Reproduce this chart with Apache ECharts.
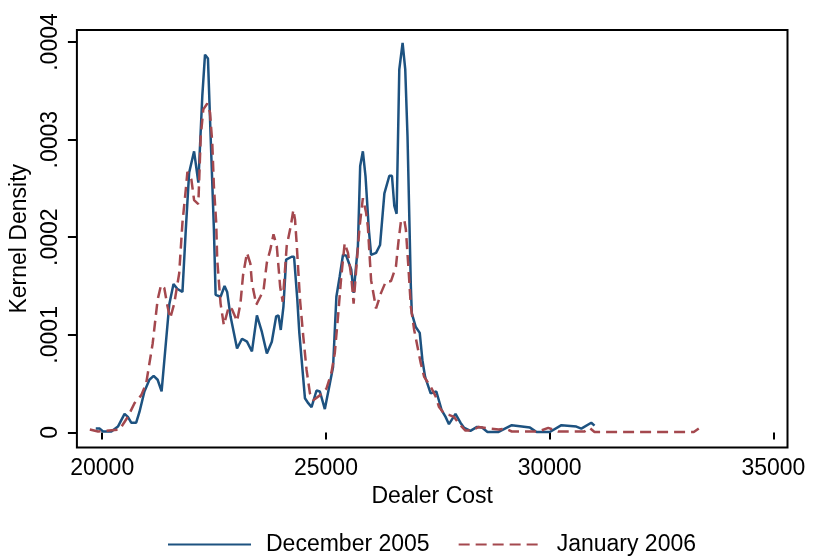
<!DOCTYPE html>
<html>
<head>
<meta charset="utf-8">
<script src="https://cdn.jsdelivr.net/npm/echarts@6/dist/echarts.min.js"></script>
<style>html,body{margin:0;padding:0;background:#fff;}#c{width:817px;height:556px;}</style>
</head>
<body>
<div id="c"></div>
<script>
const seriesNames = ['December 2005', 'January 2006'];
const xTickValues = [20000, 25000, 30000, 35000];
const xTickLabels = ['20000', '25000', '30000', '35000'];
const yTickValues = [0, 0.0001, 0.0002, 0.0003, 0.0004];
const yTickLabels = ['0', '.0001', '.0002', '.0003', '.0004'];

const decX = [19856,19945,20018,20204,20351,20499,20573,20648,20759,20832,20943,21054,21149,21238,21327,21498,21593,21682,21793,21868,21942,22053,22148,22237,22297,22363,22423,22496,22534,22645,22734,22792,22867,23013,23124,23235,23346,23457,23568,23679,23790,23888,23939,23990,24050,24110,24234,24287,24360,24405,24531,24604,24678,24789,24864,24975,25086,25159,25233,25308,25381,25454,25565,25618,25714,25765,25825,25885,25958,26009,26120,26209,26306,26417,26475,26528,26579,26639,26713,26772,26823,26897,26919,27007,27096,27156,27216,27340,27467,27585,27673,27749,27895,28006,28082,28228,28377,28488,28610,28858,29153,29560,29708,30003,30263,30596,30707,30929,31002];
const decY = [4e-6,4e-6,1e-6,1e-6,6e-6,1.9e-5,1.6e-5,1.0e-5,1.0e-5,2.1e-5,4.2e-5,5.4e-5,5.8e-5,5.4e-5,4.2e-5,1.31e-4,1.52e-4,1.47e-4,1.44e-4,2.08e-4,2.66e-4,2.88e-4,2.56e-4,3.45e-4,3.87e-4,3.83e-4,3.03e-4,2.08e-4,1.41e-4,1.39e-4,1.5e-4,1.44e-4,1.19e-4,8.6e-5,9.6e-5,9.3e-5,8.3e-5,1.2e-4,1.03e-4,8.1e-5,9.3e-5,1.19e-4,1.2e-4,1.05e-4,1.29e-4,1.77e-4,1.8e-4,1.8e-4,1.36e-4,1.02e-4,3.5e-5,3.0e-5,2.6e-5,4.3e-5,4.2e-5,2.4e-5,5.0e-5,6.7e-5,1.39e-4,1.6e-4,1.82e-4,1.81e-4,1.67e-4,1.43e-4,1.91e-4,2.73e-4,2.88e-4,2.62e-4,2.08e-4,1.82e-4,1.84e-4,1.92e-4,2.45e-4,2.63e-4,2.63e-4,2.32e-4,2.24e-4,3.72e-4,3.99e-4,3.72e-4,3.03e-4,1.5e-4,1.22e-4,1.08e-4,1.02e-4,7.4e-5,5.7e-5,4.0e-5,4.2e-5,2.3e-5,1.6e-5,8.5e-6,1.9e-5,1.0e-5,5e-6,1.6e-6,5.7e-6,5e-6,5e-7,5e-7,7.5e-6,5e-6,5e-7,5e-7,7.5e-6,6e-6,4e-6,1e-5,7e-6];

const janX = [19723,19907,20388,20573,20721,20870,20981,21127,21238,21314,21387,21460,21520,21609,21720,21793,21868,21904,21993,22053,22148,22201,22259,22348,22408,22459,22496,22547,22570,22645,22718,22829,22902,23013,23089,23147,23235,23311,23346,23444,23533,23606,23679,23755,23828,23901,23977,24034,24123,24212,24272,24309,24345,24420,24494,24567,24642,24715,24864,25011,25121,25197,25270,25343,25419,25492,25565,25618,25676,25752,25825,25898,25936,26009,26120,26231,26342,26453,26564,26624,26675,26750,26786,26846,26897,26972,27045,27119,27194,27267,27340,27451,27527,27638,27749,27860,27971,28117,28266,28414,28636,28858,29005,29153,29746,29968,30190,30780,30891,31002,33221,33332];
const janY = [3e-6,1e-6,3e-6,1.6e-5,3e-5,3.8e-5,5e-5,9.1e-5,1.36e-4,1.51e-4,1.48e-4,1.29e-4,1.17e-4,1.32e-4,1.63e-4,2.15e-4,2.49e-4,2.67e-4,2.59e-4,2.38e-4,2.34e-4,3.03e-4,3.31e-4,3.37e-4,3.28e-4,2.97e-4,2.52e-4,2.15e-4,1.77e-4,1.32e-4,1.1e-4,1.29e-4,1.26e-4,1.14e-4,1.32e-4,1.61e-4,1.84e-4,1.73e-4,1.53e-4,1.31e-4,1.39e-4,1.46e-4,1.74e-4,1.87e-4,2.03e-4,1.91e-4,1.49e-4,1.34e-4,1.91e-4,2.11e-4,2.28e-4,2.18e-4,1.94e-4,1.36e-4,9.8e-5,6.4e-5,4e-5,3.3e-5,3.8e-5,4.5e-5,6.1e-5,8.1e-5,1.19e-4,1.6e-4,1.94e-4,1.84e-4,1.6e-4,1.32e-4,1.67e-4,2.11e-4,2.4e-4,2.25e-4,2.11e-4,1.56e-4,1.27e-4,1.43e-4,1.55e-4,1.55e-4,1.7e-4,1.97e-4,2.16e-4,2.18e-4,2.08e-4,1.67e-4,1.29e-4,1.05e-4,8.8e-5,7.1e-5,5.7e-5,5.2e-5,4.7e-5,3.7e-5,2.6e-5,1.95e-5,1.8e-5,1.6e-5,9e-6,2e-6,2e-6,5.7e-6,4e-6,3e-6,4e-6,1e-6,1e-6,4.7e-6,1e-6,1e-6,4.7e-6,5e-7,5e-7,4e-6];

const zip = (xs, ys) => xs.map((x, i) => [x, ys[i]]);
const nearestLabel = (vals, labels, v) => {
  let best = 0;
  for (let i = 1; i < vals.length; i++) if (Math.abs(vals[i] - v) < Math.abs(vals[best] - v)) best = i;
  return labels[best];
};

const FONT = 'Liberation Sans';
const chart = echarts.init(document.getElementById('c'), null, {renderer: 'canvas'});
chart.setOption({
  animation: false,
  backgroundColor: '#fff',
  grid: {left: 72, right: 29.5, top: 30, bottom: 108.5, show: true, borderColor: '#000', borderWidth: 2, containLabel: false},
  xAxis: {
    type: 'value', min: 19434, max: 35315,
    name: 'Dealer Cost', nameLocation: 'middle', nameGap: 34,
    nameTextStyle: {fontFamily: FONT, fontSize: 23, color: '#000'},
    axisLine: {show: false},
    splitLine: {show: false},
    axisTick: {show: true, customValues: xTickValues, length: 7, lineStyle: {color: '#000', width: 2}},
    axisLabel: {customValues: xTickValues, margin: 10, fontFamily: FONT, fontSize: 23, color: '#000',
      formatter: v => nearestLabel(xTickValues, xTickLabels, v)}
  },
  yAxis: {
    type: 'value', min: -0.0000154, max: 0.0004123,
    name: 'Kernel Density', nameLocation: 'middle', nameGap: 43,
    nameTextStyle: {fontFamily: FONT, fontSize: 23, color: '#000'},
    axisLine: {show: false},
    splitLine: {show: false},
    axisTick: {show: true, customValues: yTickValues, length: 9, lineStyle: {color: '#000', width: 2}},
    axisLabel: {customValues: yTickValues, rotate: 90, margin: 15, fontFamily: FONT, fontSize: 23, color: '#000',
      formatter: v => nearestLabel(yTickValues, yTickLabels, v)}
  },
  legend: {
    left: 167, top: 533, padding: 0, itemWidth: 83, itemHeight: 14, itemGap: 28,
    data: seriesNames,
    itemStyle: {opacity: 0},
    textStyle: {fontFamily: FONT, fontSize: 23, color: '#000', padding: [0, 0, 0, 10]}
  },
  series: [
    {name: seriesNames[0], type: 'line', symbol: 'none', data: zip(decX, decY),
      lineStyle: {color: '#1d5280', width: 2.5}, itemStyle: {color: '#1d5280'}},
    {name: seriesNames[1], type: 'line', symbol: 'none', data: zip(janX, janY),
      lineStyle: {color: '#a4484e', width: 2.5, type: [11, 6]}, itemStyle: {color: '#a4484e'}}
  ]
});
</script>
</body>
</html>
